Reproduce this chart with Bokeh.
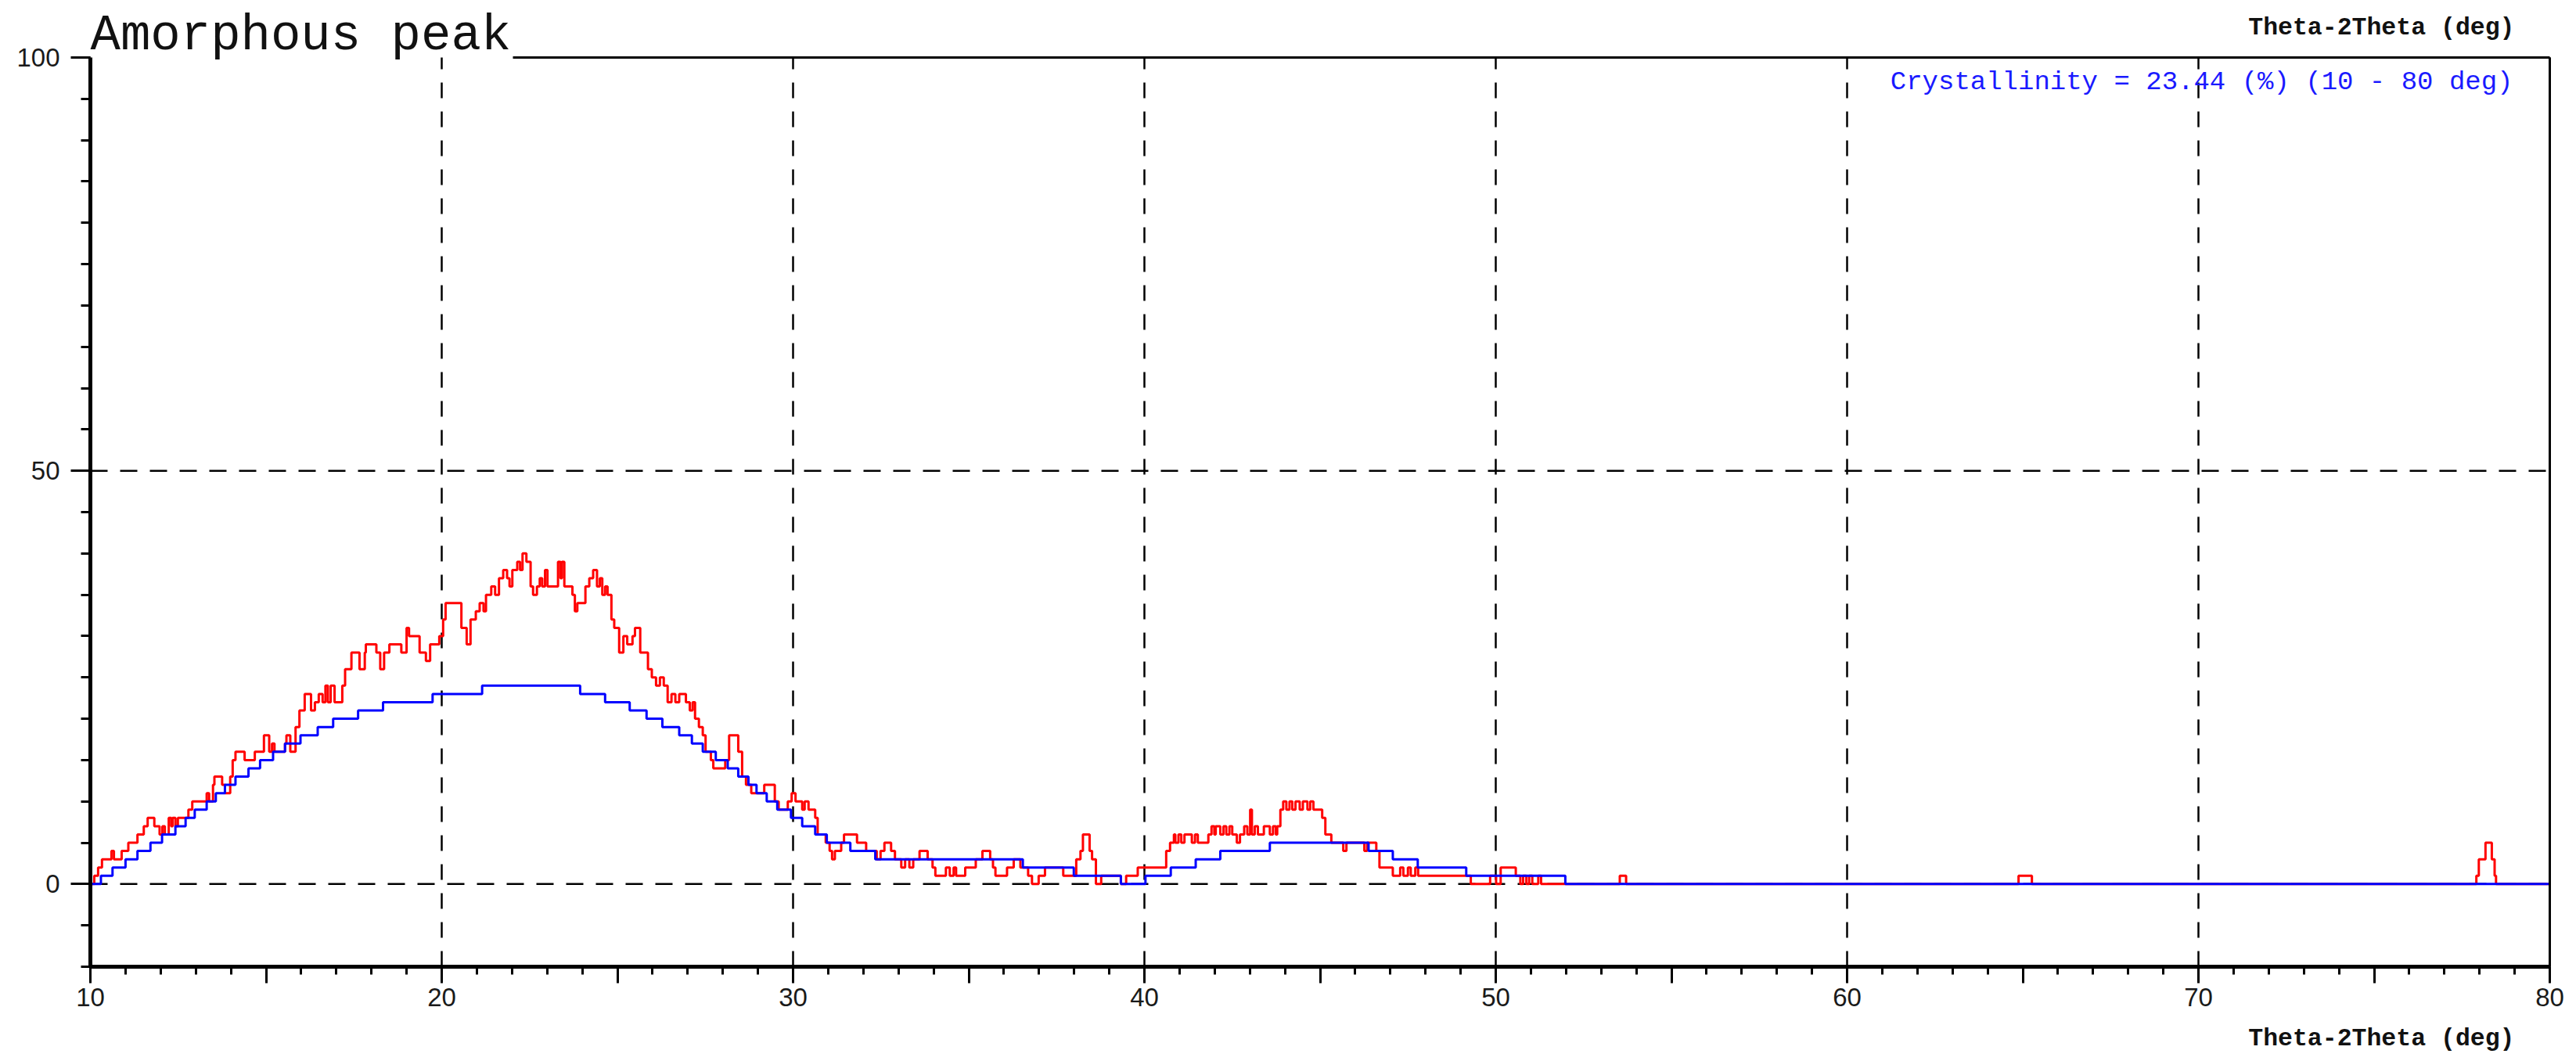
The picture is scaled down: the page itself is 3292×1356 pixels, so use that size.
from bokeh.plotting import figure
from bokeh.models import Range1d, FixedTicker, Label, CustomJSTickFormatter
from bokeh.embed import file_html
from bokeh.resources import INLINE

# ---- data ----
title_text = "Amorphous peak"
axis_title = "Theta-2Theta (deg)"
crystallinity_text = "Crystallinity = 23.44 (%) (10 - 80 deg)"

x_start, x_end = 10, 80
y_start, y_end = -10, 100
x_major = [10, 15, 20, 25, 30, 35, 40, 45, 50, 55, 60, 65, 70, 75, 80]
x_minor = list(range(10, 81))
x_grid = [20, 30, 40, 50, 60, 70, 80]
y_major = [0, 50, 100]
y_minor = list(range(-10, 101, 5))
y_grid = [0, 50]

# blue: amorphous fit (step levels, value holds from each x to the next)
blue_x = [10.00, 10.30, 10.63, 11.00, 11.34, 11.71, 12.04, 12.42, 12.71, 12.97,
          13.31, 13.57, 13.83, 14.13, 14.50, 14.83, 15.20, 15.54, 15.98, 16.47,
          16.91, 17.62, 18.33, 19.74, 21.15, 23.94, 24.65, 25.35, 25.83, 26.28,
          26.76, 27.12, 27.43, 27.80, 28.14, 28.44, 28.73, 28.96, 29.25, 29.55,
          29.94, 30.26, 30.63, 30.96, 31.63, 32.34, 36.54, 37.99, 39.33, 40.03,
          40.75, 41.46, 42.16, 43.57, 46.38, 47.07, 47.78, 49.16, 51.98, 80.00]
blue_y = [0, 1, 2, 3, 4, 5, 6, 7, 8, 9,
          10, 11, 12, 13, 14, 15, 16, 17, 18, 19,
          20, 21, 22, 23, 24, 23, 22, 21, 20, 19,
          18, 17, 16, 15, 14, 13, 12, 11, 10, 9,
          8, 7, 6, 5, 4, 3, 2, 1, 0, 1,
          2, 3, 4, 5, 4, 3, 2, 1, 0, 0]

# red: measured pattern
red_x = [10.00, 10.11, 10.22, 10.33, 10.60, 10.67, 10.89, 11.08, 11.34, 11.52,
         11.63, 11.82, 11.97, 12.05, 12.12, 12.23, 12.30, 12.34, 12.42, 12.49,
         12.79, 12.90, 13.31, 13.38, 13.49, 13.53, 13.75, 13.83, 13.98, 14.05,
         14.13, 14.39, 14.68, 14.94, 15.09, 15.17, 15.24, 15.54, 15.58, 15.69,
         15.84, 15.95, 16.10, 16.28, 16.39, 16.50, 16.61, 16.69, 16.76, 16.84,
         16.95, 17.17, 17.25, 17.43, 17.66, 17.81, 17.84, 18.14, 18.25, 18.36,
         18.51, 18.85, 19.00, 19.07, 19.37, 19.55, 19.67, 19.93, 20.04, 20.11,
         20.56, 20.71, 20.82, 20.97, 21.08, 21.19, 21.26, 21.41, 21.52, 21.63,
         21.75, 21.86, 21.93, 22.01, 22.15, 22.23, 22.30, 22.41, 22.53, 22.60,
         22.71, 22.79, 22.86, 22.94, 23.01, 23.31, 23.38, 23.42, 23.49, 23.72,
         23.79, 23.86, 24.09, 24.20, 24.31, 24.42, 24.50, 24.57, 24.65, 24.72,
         24.83, 24.91, 25.05, 25.17, 25.28, 25.43, 25.50, 25.65, 25.87, 25.98,
         26.10, 26.21, 26.32, 26.43, 26.54, 26.65, 26.76, 26.95, 27.06, 27.14,
         27.21, 27.32, 27.43, 27.51, 27.66, 27.73, 28.07, 28.18, 28.44, 28.55,
         28.66, 28.81, 29.18, 29.48, 29.59, 29.85, 29.96, 30.07, 30.26, 30.33,
         30.44, 30.63, 30.70, 30.93, 31.04, 31.11, 31.19, 31.37, 31.45, 31.82,
         32.08, 32.38, 32.49, 32.60, 32.79, 32.90, 33.08, 33.19, 33.31, 33.42,
         33.60, 33.83, 33.97, 34.05, 34.35, 34.46, 34.57, 34.64, 34.90, 35.20,
         35.39, 35.61, 35.69, 35.76, 36.09, 36.28, 36.47, 36.69, 36.80, 36.99,
         37.17, 37.69, 38.06, 38.18, 38.25, 38.44, 38.51, 38.62, 38.77, 39.33,
         39.48, 39.81, 40.62, 40.73, 40.84, 40.88, 40.97, 41.05, 41.14, 41.35,
         41.44, 41.52, 41.82, 41.91, 41.99, 42.03, 42.16, 42.25, 42.33, 42.42,
         42.50, 42.63, 42.72, 42.84, 42.93, 43.01, 43.06, 43.14, 43.23, 43.40,
         43.57, 43.66, 43.74, 43.78, 43.87, 43.95, 44.04, 44.13, 44.21, 44.30,
         44.42, 44.51, 44.64, 44.72, 44.81, 45.06, 45.15, 45.32, 45.66, 45.75,
         46.26, 46.34, 46.60, 46.69, 47.07, 47.28, 47.37, 47.50, 47.58, 47.71,
         47.79, 49.29, 49.84, 50.01, 50.14, 50.57, 50.70, 50.78, 50.87, 50.95,
         51.04, 51.21, 51.29, 53.53, 53.71, 64.88, 65.26, 77.91, 77.98, 78.17,
         78.35, 78.43, 78.47, 80.00]
red_y = [0, 1, 2, 3, 4, 3, 4, 5, 6, 7,
         8, 7, 6, 7, 6, 8, 7, 8, 7, 8,
         9, 10, 11, 10, 12, 13, 12, 11, 13, 15,
         16, 15, 16, 18, 16, 17, 16, 17, 18, 16,
         19, 21, 23, 21, 22, 23, 22, 24, 22, 24,
         22, 24, 26, 28, 26, 28, 29, 28, 26, 28,
         29, 28, 31, 30, 28, 27, 29, 30, 32, 34,
         31, 29, 32, 33, 34, 33, 35, 36, 35, 37,
         38, 37, 36, 38, 39, 38, 40, 39, 36, 35,
         36, 37, 36, 38, 36, 39, 37, 39, 36, 35,
         33, 34, 36, 37, 38, 36, 37, 35, 36, 35,
         32, 31, 28, 30, 29, 30, 31, 28, 26, 25,
         24, 25, 24, 22, 23, 22, 23, 22, 21, 22,
         20, 19, 18, 16, 15, 14, 15, 18, 16, 13,
         12, 11, 12, 10, 9, 10, 11, 10, 9, 10,
         9, 8, 6, 5, 4, 3, 4, 5, 6, 5,
         4, 3, 4, 5, 4, 3, 2, 3, 2, 3,
         4, 3, 2, 1, 2, 1, 2, 1, 2, 3,
         4, 3, 2, 1, 2, 3, 2, 1, 0, 1,
         2, 1, 3, 4, 6, 4, 3, 0, 1, 0,
         1, 2, 4, 5, 6, 5, 6, 5, 6, 5,
         6, 5, 6, 7, 6, 7, 6, 7, 6, 7,
         6, 5, 6, 7, 6, 9, 6, 7, 6, 7,
         6, 7, 6, 7, 9, 10, 9, 10, 9, 10,
         9, 10, 9, 10, 9, 8, 6, 5, 4, 5,
         4, 5, 4, 2, 1, 2, 1, 2, 1, 2,
         1, 0, 1, 0, 2, 1, 0, 1, 0, 1,
         0, 1, 0, 1, 0, 1, 0, 1, 3, 5,
         3, 1, 0, 0]

# ---- layout (pixels) ----
W, H = 3284, 1348
FRAME_L, FRAME_R = 115, 3258      # where x_start / x_end fall
FRAME_T, FRAME_B = 73, 1235       # where y_end / y_start fall
TITLE_END_PX = 655                # top border resumes after the title

ppx = (FRAME_R - FRAME_L) / (x_end - x_start)
ppy = (FRAME_B - FRAME_T) / (y_end - y_start)
xr = Range1d(x_start - FRAME_L / ppx, x_end + (W - FRAME_R) / ppx)
yr = Range1d(y_start - (H - FRAME_B) / ppy, y_end + FRAME_T / ppy)
title_end = x_start + (TITLE_END_PX - FRAME_L) / ppx

p = figure(width=W, height=H, x_range=xr, y_range=yr,
           output_backend="svg", toolbar_location=None,
           min_border=0)
p.background_fill_color = "white"
p.border_fill_color = "white"
p.outline_line_color = None
p.xgrid.visible = False
p.ygrid.visible = False

# x axis
xa = p.xaxis[0]
xa.fixed_location = y_start
xa.bounds = (x_start, x_end)
xa.ticker = FixedTicker(ticks=x_major, minor_ticks=x_minor)
xa.formatter = CustomJSTickFormatter(code="return (Math.round(tick) % 10 === 0) ? String(Math.round(tick)) : '';")
xa.axis_line_width = 5
xa.axis_line_color = "black"
xa.major_tick_out = 21
xa.major_tick_in = 0
xa.major_tick_line_width = 3
xa.minor_tick_out = 10
xa.minor_tick_in = 0
xa.minor_tick_line_width = 3
xa.major_label_text_font = "Liberation Sans"
xa.major_label_text_font_size = "33px"
xa.major_label_text_color = "#1a1a1a"
xa.major_label_standoff = 6

# y axis
ya = p.yaxis[0]
ya.fixed_location = x_start
ya.bounds = (y_start, y_end)
ya.ticker = FixedTicker(ticks=y_major, minor_ticks=y_minor)
ya.axis_line_width = 5
ya.axis_line_color = "black"
ya.major_tick_out = 25
ya.major_tick_in = 0
ya.major_tick_line_width = 3
ya.minor_tick_out = 12
ya.minor_tick_in = 0
ya.minor_tick_line_width = 3
ya.major_label_text_font = "Liberation Sans"
ya.major_label_text_font_size = "33px"
ya.major_label_text_color = "#1a1a1a"
ya.major_label_standoff = 14

# dashed grid lines, bounded to the plot box
p.segment(x0=x_grid, y0=[y_start] * len(x_grid), x1=x_grid, y1=[y_end] * len(x_grid),
          line_color="black", line_width=2.5, line_dash="20 17")
p.segment(x0=[x_start] * len(y_grid), y0=y_grid, x1=[x_end] * len(y_grid), y1=y_grid,
          line_color="black", line_width=2.5, line_dash="22 16")

# data
p.step(red_x, red_y, mode="after", line_color="#ff0000", line_width=3)
p.step(blue_x, blue_y, mode="after", line_color="#0000ff", line_width=3)

# top and right border of the box
p.segment(x0=[title_end, x_end], y0=[y_end, y_start], x1=[x_end, x_end], y1=[y_end, y_end],
          line_color="black", line_width=3)

# texts
mono = "Liberation Mono"
p.add_layout(Label(x=x_start, y=y_end, text=title_text, text_font=mono,
                   text_font_size="64px", text_color="#111111",
                   text_baseline="alphabetic", text_align="left",
                   y_offset=28))
p.add_layout(Label(x=x_end, y=y_end, text=axis_title, text_font=mono,
                   text_font_size="31.5px", text_font_style="bold",
                   text_color="#111111", text_align="right",
                   text_baseline="alphabetic", x_offset=-45, y_offset=38))
p.add_layout(Label(x=x_end, y=y_start, text=axis_title, text_font=mono,
                   text_font_size="31.5px", text_font_style="bold",
                   text_color="#111111", text_align="right",
                   text_baseline="alphabetic", x_offset=-45, y_offset=-92))
p.add_layout(Label(x=x_end, y=y_end, text=crystallinity_text, text_font=mono,
                   text_font_size="34px", text_color="#1a1aff",
                   text_align="right", text_baseline="alphabetic",
                   x_offset=-47, y_offset=-31))

open("out.html", "w").write(file_html(p, INLINE))
